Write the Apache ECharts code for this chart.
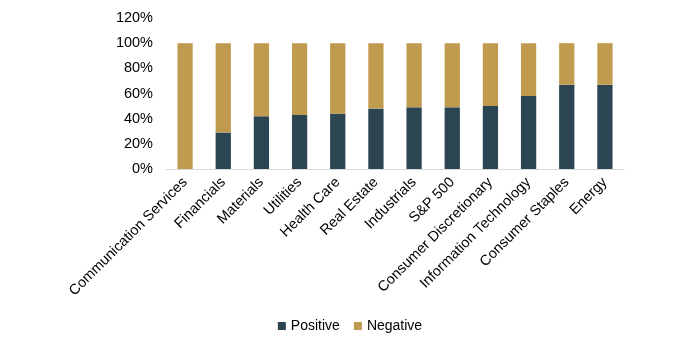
<!DOCTYPE html>
<html>
<head>
<meta charset="utf-8">
<script src="https://cdn.jsdelivr.net/npm/echarts@6/dist/echarts.min.js"></script>
<style>
  html, body { margin: 0; padding: 0; background: #fff; }
  #chart { width: 700px; height: 350px; }
</style>
</head>
<body>
<div id="chart"></div>
<script>
const categories = [
  'Communication Services', 'Financials', 'Materials', 'Utilities', 'Health Care',
  'Real Estate', 'Industrials', 'S&P 500', 'Consumer Discretionary',
  'Information Technology', 'Consumer Staples', 'Energy'
];
const positive = [0, 29, 42, 43, 44, 48, 49, 49, 50, 58, 67, 67];
const negative = [100, 71, 58, 57, 56, 52, 51, 51, 50, 42, 33, 33];
const yTicks = [0, 20, 40, 60, 80, 100, 120];

const chart = echarts.init(document.getElementById('chart'));
const font = 'Liberation Sans, Arial, sans-serif';

chart.setOption({
  animation: false,
  grid: { left: 166, right: 76, top: 18, bottom: 181 },
  legend: {
    bottom: 12,
    left: 'center',
    icon: 'rect',
    itemWidth: 8,
    itemHeight: 8,
    itemGap: 14,
    textStyle: { fontFamily: font, fontSize: 14, color: '#000' },
    data: ['Positive', 'Negative']
  },
  xAxis: {
    type: 'category',
    data: categories,
    axisTick: { show: false },
    axisLine: { lineStyle: { color: '#d9d9d9' } },
    axisLabel: {
      interval: 0,
      rotate: 45,
      margin: 11,
      fontFamily: font,
      fontSize: 14.5,
      color: '#000'
    }
  },
  yAxis: {
    type: 'value',
    min: yTicks[0],
    max: yTicks[yTicks.length - 1],
    interval: 20,
    splitLine: { show: false },
    axisLine: { show: false },
    axisTick: { show: false },
    axisLabel: {
      margin: 13,
      fontFamily: font,
      fontSize: 14.5,
      color: '#000',
      formatter: '{value}%'
    }
  },
  series: [
    {
      name: 'Positive',
      type: 'bar',
      stack: 'total',
      barWidth: '40%',
      data: positive,
      itemStyle: { color: '#2c4552' }
    },
    {
      name: 'Negative',
      type: 'bar',
      stack: 'total',
      data: negative,
      itemStyle: { color: '#c09a4e' }
    }
  ]
});
</script>
</body>
</html>
